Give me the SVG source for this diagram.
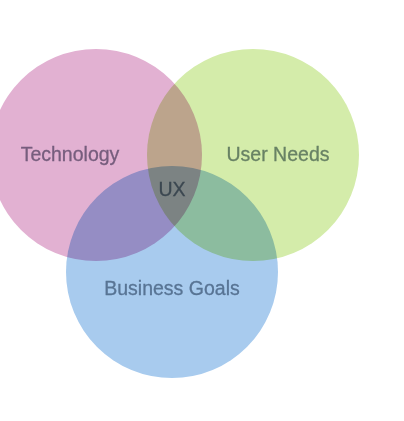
<svg xmlns="http://www.w3.org/2000/svg" width="404" height="421" viewBox="0 0 404 421">
<style>
.c{mix-blend-mode:multiply}
.t{font-family:"Liberation Sans",Arial,sans-serif;font-size:19.5px;text-anchor:middle;stroke-width:0.3px}
</style>
<rect width="404" height="421" fill="#ffffff"/>
<g id="circles" style="isolation:isolate">
<g id="technology"><circle class="c" cx="96" cy="155" r="106" fill="#e2b1d2"/></g>
<g id="user-needs"><circle class="c" cx="253" cy="155" r="106" fill="#d4ecaa"/></g>
<g id="business-goals"><circle class="c" cx="172" cy="272" r="106" fill="#a8cbee"/></g>
</g>
<g id="labels">
<text class="t" x="70" y="161" fill="#765d7d" stroke="#765d7d">Technology</text>
<text class="t" x="278" y="161" fill="#688264" stroke="#688264">User Needs</text>
<text class="t" x="172" y="295" fill="#587494" stroke="#587494">Business Goals</text>
<text class="t" x="172" y="196" fill="#3c4851" stroke="#3c4851">UX</text>
</g>
</svg>
